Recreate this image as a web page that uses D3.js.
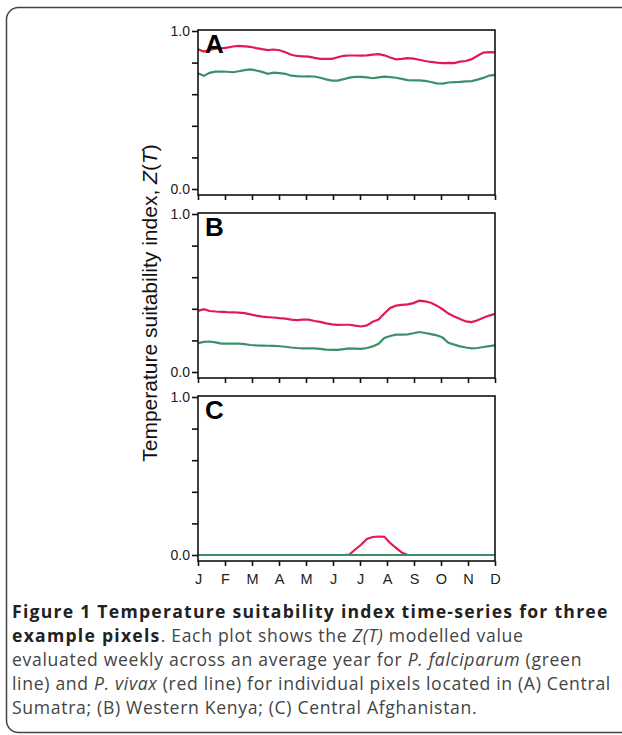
<!DOCTYPE html>
<head>
    <meta charset="utf-8">
    <title>Temperature suitability index</title>
    <style>
        body { margin: 0; background: #fff; }
        svg { display: block; }
        .axis text { font-family: "Liberation Sans", Arial, sans-serif; font-size: 14px; fill: #222; }
        .axis line, .axis path { stroke: #111; }
        text.panel_label { font-family: "Liberation Sans", Arial, sans-serif; font-size: 26px; font-weight: bold; }
        text#y_axis_label { font-family: "Liberation Sans", Arial, sans-serif; font-size: 21px; fill: #111; }
        text.caption { font-family: "Open Sans", sans-serif; font-size: 17.6px; letter-spacing: 0.68px; fill: #444; }
        text.caption .b { font-weight: bold; fill: #222; letter-spacing: 1.25px; }
    </style>
    <script type="text/javascript" src="https://cdn.jsdelivr.net/npm/d3@7"></script>
</head>
<body>
    <script>
        // month tick labels
        var months = ["J","F","M","A","M","J","J","A","S","O","N","D"];
        var panels = ["A", "B", "C"];

        // weekly Z(T) values, 52 weeks
        var vivaxA = [0.884,0.870,0.880,0.888,0.890,0.895,0.902,0.906,0.903,0.900,0.892,0.885,0.879,
            0.883,0.878,0.866,0.850,0.842,0.840,0.838,0.830,0.824,0.823,0.824,0.834,0.843,
            0.845,0.845,0.844,0.846,0.850,0.854,0.846,0.832,0.821,0.824,0.828,0.825,0.818,
            0.810,0.804,0.800,0.797,0.798,0.797,0.806,0.810,0.822,0.843,0.863,0.866,0.865];
        var falcA = [0.732,0.716,0.735,0.743,0.743,0.742,0.739,0.745,0.752,0.757,0.750,0.741,0.729,
            0.737,0.733,0.729,0.717,0.714,0.712,0.713,0.712,0.704,0.694,0.686,0.686,0.695,
            0.705,0.710,0.710,0.706,0.701,0.706,0.711,0.708,0.704,0.697,0.689,0.687,0.688,
            0.684,0.677,0.669,0.667,0.674,0.676,0.678,0.681,0.683,0.692,0.703,0.718,0.722];
        var vivaxB = [0.387,0.398,0.386,0.383,0.381,0.379,0.378,0.376,0.373,0.365,0.357,0.350,0.347,
            0.345,0.341,0.338,0.332,0.328,0.331,0.331,0.323,0.317,0.308,0.301,0.298,0.299,
            0.299,0.293,0.288,0.295,0.318,0.332,0.370,0.405,0.420,0.425,0.428,0.436,0.451,
            0.447,0.438,0.420,0.397,0.370,0.352,0.335,0.320,0.316,0.328,0.343,0.357,0.368];
        var falcB = [0.183,0.191,0.193,0.187,0.180,0.179,0.180,0.179,0.176,0.171,0.168,0.167,0.166,
            0.165,0.163,0.160,0.155,0.152,0.150,0.150,0.149,0.146,0.142,0.140,0.140,0.145,
            0.149,0.148,0.147,0.152,0.162,0.178,0.215,0.228,0.236,0.237,0.238,0.245,0.253,
            0.247,0.240,0.232,0.218,0.185,0.173,0.162,0.155,0.150,0.152,0.158,0.164,0.168];
        var vivaxC = [0,0,0,0,0,0,0,0,0,0,0,0,0,
            0,0,0,0,0,0,0,0,0,0,0,0,0,
            0.003,0.035,0.065,0.102,0.114,0.117,0.115,0.076,0.045,0.015,0,0,0,
            0,0,0,0,0,0,0,0,0,0,0,0,0];
        var falcC = [0,0,0,0,0,0,0,0,0,0,0,0,0,
            0,0,0,0,0,0,0,0,0,0,0,0,0,
            0,0,0,0,0,0,0,0,0,0,0,0,0,
            0,0,0,0,0,0,0,0,0,0,0,0,0];

        var vivax = [vivaxA, vivaxB, vivaxC];
        var falc = [falcA, falcB, falcC];

        var red = "#e11b52", green = "#3b9167";

        var left = 198, right = 495, panelH = 165;
        var tops = [30, 213, 396];

        var svg = d3.select("body")
            .append("svg")
            .attr("width", 622)
            .attr("height", 735);

        // outer rounded border
        svg.append("rect")
            .attr("x", 6.5).attr("y", 7.5)
            .attr("width", 640).attr("height", 725)
            .attr("rx", 12)
            .attr("fill", "none")
            .attr("stroke", "#444")
            .attr("stroke-width", 1.5);

        var x = d3.scaleLinear().domain([0, 11]).range([left, right]);
        var xw = d3.scaleLinear().domain([0, 51]).range([left, right]);

        panels.forEach(function(p, i){
            var top = tops[i];
            var y = d3.scaleLinear().domain([0, 1]).range([top + 159, top + 1]);
            var g = svg.append("g").attr("id", "panel_" + p);

            var line = d3.line()
                .x(function(d, k){ return xw(k); })
                .y(function(d){ return y(d); });

            g.append("path")
                .datum(vivax[i])
                .attr("d", line)
                .attr("fill", "none")
                .attr("stroke", red)
                .attr("stroke-width", 2.2);

            g.append("path")
                .datum(falc[i])
                .attr("d", line)
                .attr("fill", "none")
                .attr("stroke", green)
                .attr("stroke-width", 2.2);

            g.append("rect")
                .attr("x", left).attr("y", top)
                .attr("width", right - left).attr("height", panelH)
                .attr("fill", "none")
                .attr("stroke", "#111")
                .attr("stroke-width", 1.6);

            g.append("g")
                .attr("class", "axis")
                .attr("transform", "translate(" + left + ",0)")
                .call(d3.axisLeft(y)
                    .tickValues([0, 0.2, 0.4, 0.6, 0.8, 1])
                    .tickSize(6)
                    .tickPadding(2)
                    .tickFormat(function(d){ return (d === 0 || d === 1) ? d3.format(".1f")(d) : ""; }))
                .call(function(a){ a.select(".domain").remove(); })
                .selectAll("line").attr("stroke-width", 1.6);

            var xa = g.append("g")
                .attr("class", "axis")
                .attr("transform", "translate(0," + (top + panelH) + ")")
                .call(d3.axisBottom(x)
                    .tickValues(d3.range(12))
                    .tickSize(5)
                    .tickPadding(8)
                    .tickFormat(function(d){ return i === 2 ? months[d] : ""; }));
            xa.select(".domain").remove();
            xa.selectAll("line").attr("stroke-width", 1.6);
            xa.selectAll("text").style("font-size", "14.5px");

            g.append("text")
                .attr("class", "panel_label")
                .attr("x", left + 7)
                .attr("y", top + 23)
                .text(p);
        });

        // y axis title
        var yl = svg.append("text")
            .attr("id", "y_axis_label")
            .attr("transform", "translate(157,303) rotate(-90)")
            .style("text-anchor", "middle");
        yl.append("tspan").text("Temperature suitability index, ");
        yl.append("tspan").style("font-style", "italic").text("Z");
        yl.append("tspan").text("(");
        yl.append("tspan").style("font-style", "italic").text("T");
        yl.append("tspan").text(")");

        // caption
        var capLines = [
            [["b", "Figure 1 Temperature suitability index time-series for three"]],
            [["b", "example pixels"], ["", ". Each plot shows the "], ["i", "Z(T)"], ["", " modelled value"]],
            [["", "evaluated weekly across an average year for "], ["i", "P. falciparum"], ["", " (green"]],
            [["", "line) and "], ["i", "P. vivax"], ["", " (red line) for individual pixels located in (A) Central"]],
            [["", "Sumatra; (B) Western Kenya; (C) Central Afghanistan."]]
        ];
        capLines.forEach(function(parts, j){
            var t = svg.append("text")
                .attr("class", "caption")
                .attr("x", 12)
                .attr("y", 618 + j * 24);
            parts.forEach(function(s){
                var ts = t.append("tspan").text(s[1]);
                if (s[0] === "b") ts.attr("class", "b");
                if (s[0] === "i") ts.style("font-style", "italic");
            });
        });
    </script>
</body>
